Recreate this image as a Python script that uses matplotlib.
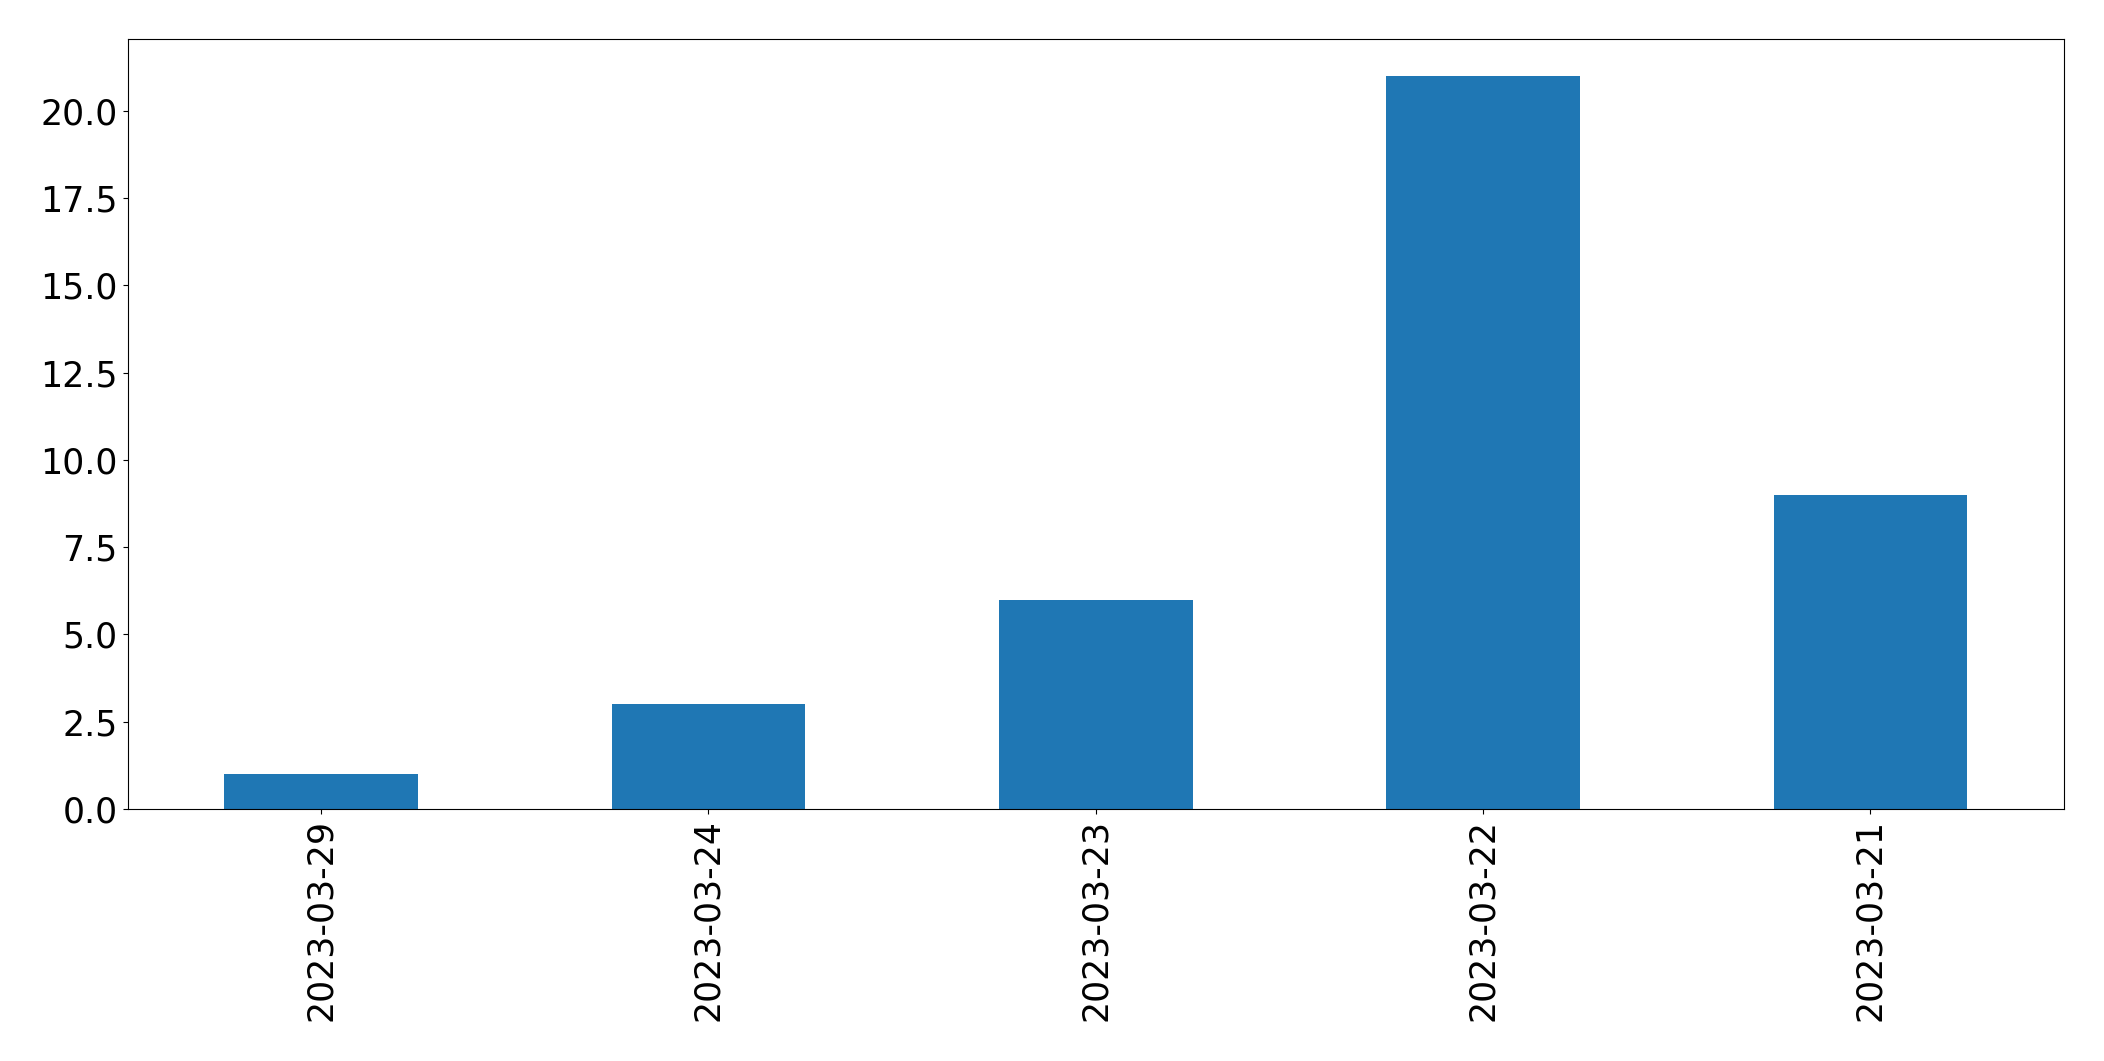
import matplotlib
matplotlib.use("Agg")
import pandas as pd
import matplotlib.pyplot as plt

dates = ["2023-03-29", "2023-03-24", "2023-03-23", "2023-03-22", "2023-03-21"]
counts = [1, 3, 6, 21, 9]

s = pd.Series(counts, index=dates)

fig = plt.figure(figsize=(21.04, 10.61), dpi=100)
ax = s.plot(kind="bar", fontsize=25)
plt.subplots_adjust(left=0.0606, right=0.981, top=0.963, bottom=0.2375)
plt.savefig("out.png", dpi=100)
plt.close()
